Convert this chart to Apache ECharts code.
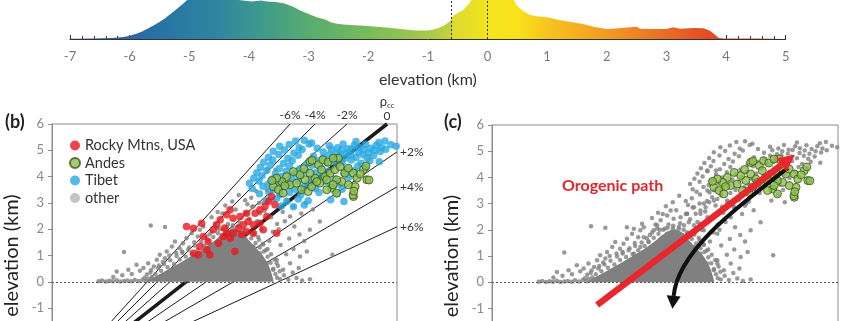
<!DOCTYPE html>
<html>
<head>
<meta charset="utf-8">
<script src="https://cdn.jsdelivr.net/npm/echarts/dist/echarts.min.js"></script>
<style>
  html, body { margin: 0; padding: 0; background: #fff; }
  #chart { width: 845px; height: 321px; }
</style>
</head>
<body>
<div id="chart"></div>
<script>
// ---- (a) global hypsometry strip: elevation (km) vs relative frequency ----
const hypsoKm = [-7, -6.6, -6.3, -6.1, -6.0, -5.9, -5.8, -5.7, -5.6, -5.5, -5.4, -5.3, -5.2, -5.1, -5.0,
  -4.8, -4.5, -4.3, -4.1, -3.95, -3.8, -3.7, -3.55, -3.4, -3.25, -3.14, -3.0, -2.85, -2.72, -2.62, -2.5,
  -2.3, -2.0, -1.75, -1.5, -1.2, -1.0, -0.9, -0.8, -0.7, -0.62, -0.58, -0.5, -0.41, -0.3, -0.25, -0.1,
  0.1, 0.3, 0.43, 0.5, 0.6, 0.71, 0.85, 1.0, 1.2, 1.4, 1.6, 1.8, 2.0, 2.2, 2.4, 2.5, 2.56, 2.8, 3.0,
  3.11, 3.23, 3.45, 3.62, 3.73, 3.82, 3.87, 3.95, 4.5, 5.0];
const hypsoFreq = [0.3, 0.5, 1.0, 2.0, 3.3, 5.0, 7.3, 10.3, 13.5, 17, 21, 25.7, 30.5, 35.5, 41,
  48, 45, 40, 38.5, 37.5, 38.5, 37.5, 37, 35.5, 32, 28.5, 25, 21.5, 19.5, 16.5, 15,
  14, 13, 11.7, 10.3, 8.5, 8.6, 9.6, 11.5, 14.5, 18.5, 23, 26, 29, 36, 41, 60,
  70, 55, 40, 33, 28, 24, 22.5, 21.7, 19, 17, 15, 12, 10, 10.8, 11.8, 12.3, 10.2, 10, 10,
  11.7, 10.3, 11, 10.7, 8.3, 4, 1.3, 0.6, 0.5, 0.5];
const hypsoMarkers = [-0.6, 0];

// ---- (b)/(c) samples: [crustal column index, mean elevation (km)] ----
const rockyMtns = [
  [31.2, 2.1], [32.8, 2.04], [34.7, 2.23], [34.3, 1.34], [35.9, 1.22], [33.9, 1.03], [32.8, 1.09],
  [36.6, 1.03], [36.2, 1.53], [37.4, 1.98], [39.0, 2.36], [40.5, 2.55], [41.3, 2.74], [42.0, 2.42],
  [39.7, 1.72], [40.5, 1.85], [41.3, 1.66], [42.0, 1.85], [43.2, 2.04], [44.4, 2.17], [45.5, 2.29],
  [46.7, 2.17], [45.1, 1.91], [46.7, 1.85], [43.6, 2.48], [45.1, 2.61], [47.1, 2.61], [48.2, 2.74],
  [49.4, 2.86], [50.2, 3.05], [50.9, 3.24], [51.7, 2.93], [49.8, 2.48], [48.2, 2.23], [49.0, 1.98],
  [52.1, 1.85], [42.4, 1.15], [38.2, 2.17], [35.1, 1.72], [38.6, 1.47], [40.0, 2.05], [44.0, 1.8]
];
const andes = [
  [59.8, 4.57], [61.8, 4.45], [62.5, 4.26], [63.3, 4.0], [64.5, 4.13], [65.6, 4.26], [66.4, 4.7],
  [66.8, 4.38], [67.9, 4.13], [68.7, 4.32], [69.9, 4.13], [70.7, 3.94], [72.2, 4.26], [73.0, 3.88],
  [70.3, 3.62], [69.9, 3.24], [68.7, 3.69], [67.2, 3.81], [66.0, 3.88], [64.9, 3.56], [66.0, 3.37],
  [63.7, 3.5], [62.1, 3.75], [61.0, 3.94], [59.8, 4.13], [58.7, 3.88], [57.5, 4.07], [56.0, 4.19],
  [54.4, 4.0], [53.3, 3.81], [52.1, 3.94], [51.3, 3.62], [52.5, 3.5], [53.6, 3.37], [55.2, 3.69],
  [56.7, 3.75], [57.9, 3.5], [59.4, 3.43], [60.2, 3.62], [61.4, 3.81], [63.7, 3.88], [65.2, 3.69],
  [60.3, 4.62], [62.8, 4.64], [64.0, 4.55], [65.2, 4.7], [73.5, 3.87], [69.8, 3.3], [70.0, 3.45],
  [72.8, 4.4], [71.5, 4.1], [58.4, 4.3], [54.0, 3.65], [51.0, 3.85]
];
const tibet = [
  [56.5, 5.35], [58.5, 5.38], [60.2, 5.28], [70.5, 5.33], [75.8, 5.3], [77.2, 5.35],
  [52.8, 5.15], [55.0, 5.22], [57.3, 5.1], [59.6, 5.24], [61.5, 5.08], [64.3, 5.17], [66.2, 5.1],
  [67.5, 5.24], [68.6, 5.06], [70.1, 5.19], [71.2, 5.11], [72.7, 5.23], [73.9, 5.08], [75.2, 5.19],
  [76.4, 5.1], [78.6, 5.21], [79.8, 5.15],
  [51.3, 4.96], [53.9, 5.01], [56.1, 4.9], [58.0, 5.03], [62.9, 4.94], [64.8, 5.04], [65.9, 4.88],
  [67.1, 5.0], [68.4, 4.9], [69.5, 5.05], [71.1, 4.93], [72.3, 5.03], [73.4, 4.9], [74.8, 5.0],
  [76.1, 4.95], [77.4, 5.04],
  [50.2, 4.74], [52.6, 4.84], [54.7, 4.7], [57.1, 4.81], [60.6, 4.77], [62.9, 4.71], [64.3, 4.83],
  [65.4, 4.74], [66.9, 4.85], [67.9, 4.7], [69.3, 4.8], [70.5, 4.73], [72.1, 4.83], [73.1, 4.71],
  [74.6, 4.8],
  [49.1, 4.55], [51.2, 4.63], [53.7, 4.51], [55.7, 4.61], [59.1, 4.49], [61.4, 4.6], [63.9, 4.52],
  [65.1, 4.6], [67.3, 4.55], [69.4, 4.63], [71.7, 4.51], [73.7, 4.6], [75.9, 4.56],
  [48.3, 4.35], [50.6, 4.43], [52.7, 4.31], [55.1, 4.4], [57.4, 4.29], [60.3, 4.43], [62.3, 4.34],
  [66.1, 4.42], [68.5, 4.31], [70.9, 4.4], [72.8, 4.35],
  [47.5, 4.15], [49.8, 4.23], [51.8, 4.11], [54.3, 4.2], [56.4, 4.12], [58.9, 4.22], [61.1, 4.15],
  [64.1, 4.2], [67.7, 4.12], [70.1, 4.22],
  [46.8, 3.95], [48.7, 4.03], [51.1, 3.91], [53.2, 4.0], [55.6, 3.92], [57.7, 4.02], [60.1, 3.95],
  [62.7, 4.03], [65.6, 3.91], [68.8, 3.98],
  [45.8, 3.75], [48.0, 3.83], [50.1, 3.71], [52.5, 3.8], [54.7, 3.72], [57.1, 3.83], [59.3, 3.75],
  [63.4, 3.8], [66.6, 3.72],
  [46.4, 3.55], [48.9, 3.63], [51.3, 3.51], [53.5, 3.6], [56.3, 3.52], [58.4, 3.62], [61.1, 3.55],
  [64.7, 3.6], [67.3, 3.52],
  [48.1, 3.35], [50.3, 3.42], [52.9, 3.32], [55.1, 3.4], [57.7, 3.31], [61.9, 3.4], [66.1, 3.35],
  [49.7, 3.1], [52.1, 3.18], [54.4, 3.05], [57.1, 3.15], [59.4, 3.08], [64.6, 3.12], [67.7, 3.05],
  [53.2, 2.88], [56.0, 2.85], [58.5, 2.92]
];
const otherRegions = [
  [10.8, 0.02], [11.6, 0.05], [12.5, 0.01], [13.3, 0.04], [14.1, 0.02], [15.0, 0.06], [15.8, 0.01],
  [16.7, 0.03], [17.5, 0.05], [18.4, 0.02], [19.2, 0.07], [20.1, 0.03], [21.0, 0.08], [21.8, 0.04],
  [22.4, 0.12], [14.2, 0.18], [15.0, 0.39], [16.3, 0.25], [17.7, 0.46], [18.5, 0.3], [19.6, 0.65],
  [20.4, 0.42], [21.2, 0.52], [22.3, 0.71], [22.0, 0.28], [23.0, 0.45], [23.6, 0.58], [24.3, 0.84],
  [25.0, 1.03], [24.8, 0.62], [25.7, 0.75], [26.6, 1.15], [26.2, 0.9], [27.8, 1.34], [27.2, 1.0],
  [28.5, 1.53], [28.8, 1.1], [29.6, 1.28], [30.4, 1.47], [31.2, 1.66], [30.2, 1.15], [32.4, 1.85],
  [33.0, 1.5], [34.3, 1.98], [35.1, 2.1], [22.9, 2.14], [26.2, 2.08], [16.7, 1.13], [33.8, 1.72],
  [31.8, 1.3], [36.5, 1.8], [37.8, 2.2], [38.8, 2.0], [39.5, 2.6], [40.8, 2.2], [41.8, 2.05],
  [42.6, 2.75], [43.5, 2.25], [44.8, 2.6], [45.8, 2.4], [46.4, 2.85], [47.5, 2.3], [48.5, 2.0],
  [47.8, 1.7], [48.9, 1.45], [49.6, 1.2], [50.4, 1.55], [51.2, 1.9], [52.2, 2.2], [50.8, 2.45],
  [49.3, 2.7], [48.0, 3.0], [46.2, 3.2], [44.8, 3.1], [43.3, 3.3], [47.3, 3.45], [45.3, 2.95],
  [41.8, 3.05], [40.2, 2.9], [38.4, 2.65], [37.0, 2.45], [51.3, 0.46], [49.8, 0.71], [52.1, 0.84],
  [48.2, 1.09], [46.7, 1.34], [52.1, 0.71], [53.6, 0.46], [55.2, 0.71], [57.5, 0.96], [59.1, 1.15],
  [52.9, 0.1], [54.8, 0.08], [56.7, 0.14], [59.8, 0.1], [58.0, 0.05], [53.8, 0.25], [55.8, 0.35],
  [57.2, 0.52], [56.0, 1.25], [54.3, 1.05], [53.0, 1.4], [55.0, 1.65], [57.4, 1.8], [56.2, 2.1],
  [58.5, 1.55], [59.8, 1.98], [62.1, 2.29], [55.2, 2.48], [56.0, 2.86], [54.4, 3.12], [52.9, 3.5],
  [51.3, 3.12], [49.8, 3.5], [49.0, 3.0], [48.2, 2.61], [46.7, 2.86], [45.1, 2.61], [53.5, 2.65],
  [57.8, 2.6], [58.8, 3.0], [60.5, 2.75], [51.8, 4.26], [49.8, 4.26], [50.5, 3.85], [52.6, 2.0],
  [54.0, 2.3], [65.0, 1.03],
  [24.0, 0.3], [25.3, 0.42], [26.8, 0.55], [28.3, 0.68], [29.6, 0.85], [31.0, 0.96], [32.5, 1.08],
  [33.8, 1.22], [35.3, 1.38], [36.2, 1.55], [37.4, 1.7], [38.5, 1.85], [39.6, 2.0], [40.6, 2.08],
  [41.9, 2.15], [43.2, 2.12], [44.3, 2.0], [45.2, 1.85], [46.2, 1.66], [47.2, 1.48], [48.2, 1.3],
  [49.1, 1.15], [50.0, 0.95], [50.7, 0.72], [51.3, 0.5], [51.8, 0.3], [52.2, 0.15], [23.2, 0.18],
  [21.5, 0.15], [22.8, 0.35], [24.6, 0.52], [26.0, 0.68], [27.4, 0.82], [28.9, 0.98], [30.2, 1.1],
  [31.6, 1.22], [33.1, 1.38], [34.6, 1.52], [35.8, 1.68], [37.0, 1.9], [38.2, 2.05], [46.8, 1.82],
  [48.0, 1.6], [49.0, 1.42], [50.0, 1.25], [50.8, 1.05], [51.6, 0.85], [52.4, 0.6], [52.8, 0.4]
];
// outline of the saturated low-elevation cloud, same units as the samples
const denseCoreOutline = [
  [22.0, 0], [23.0, 0.12], [24.5, 0.25], [26.0, 0.38], [27.5, 0.52], [29.0, 0.66], [30.5, 0.8],
  [32.0, 0.95], [33.5, 1.1], [35.0, 1.25], [36.5, 1.42], [37.8, 1.58], [39.0, 1.75], [40.2, 1.9],
  [41.4, 2.0], [42.6, 2.02], [43.8, 1.92], [44.8, 1.75], [45.8, 1.55], [46.8, 1.38], [47.8, 1.2],
  [48.8, 1.02], [49.6, 0.82], [50.3, 0.6], [50.8, 0.38], [51.2, 0.15], [51.4, 0]
];

// lines of constant crustal density contrast
const rhoLabels = ['-6%', '-4%', '-2%', '0', '+2%', '+4%', '+6%'];
const rhoOrigin = [0, -4];
const rhoEnds = [[55.2, 6], [61.0, 6], [68.4, 6], [77.7, 6], [80, 4.94], [80, 3.61], [80, 2.09]];

// evolution paths in (c): tail ... head base (cubic control points for the curved one)
const orogenicPath = [[24.3, -0.87], [66.9, 4.47]];
const collapsePath = [[68.4, 4.36], [57.3, 2.95], [43.0, 1.23], [42.0, -0.52]];

const FONT = 'Lato';
const GRAY_AXIS = '#8c8c8c';

const hypsoGradient = new echarts.graphic.LinearGradient(0, 0, 1, 0, [
  { offset: 0.0, color: '#5a4c9c' },
  { offset: 0.067, color: '#2f5fa8' },
  { offset: 0.125, color: '#2773a4' },
  { offset: 0.208, color: '#2f86a0' },
  { offset: 0.267, color: '#3e9a8c' },
  { offset: 0.333, color: '#57ac70' },
  { offset: 0.417, color: '#78bb5c' },
  { offset: 0.5, color: '#a6c94a' },
  { offset: 0.532, color: '#c5d23c' },
  { offset: 0.536, color: '#dcdb30' },
  { offset: 0.583, color: '#f2e41e' },
  { offset: 0.625, color: '#f8e21a' },
  { offset: 0.667, color: '#f6c51e' },
  { offset: 0.75, color: '#f29a22' },
  { offset: 0.833, color: '#ea6c25' },
  { offset: 0.892, color: '#e44a26' },
  { offset: 1.0, color: '#e03a2a' }
]);

function elevAxis(gridIndex) {
  return {
    type: 'value', gridIndex, min: -4, max: 6, interval: 1,
    axisLine: { show: true, lineStyle: { color: GRAY_AXIS, width: 1 } },
    axisTick: { show: true, inside: false, length: 4, lineStyle: { color: GRAY_AXIS } },
    axisLabel: { color: '#8a8a8a', fontSize: 13, margin: 8, fontFamily: FONT },
    splitLine: { show: false },
    name: 'elevation (km)', nameLocation: 'middle', nameGap: 30,
    nameTextStyle: { fontSize: 20, color: '#222', fontFamily: FONT }
  };
}
function hiddenXAxis(gridIndex) {
  return { type: 'value', gridIndex, min: 0, max: 80, show: false, splitLine: { show: false } };
}
function coreSeries(xAxisIndex, yAxisIndex) {
  return {
    type: 'custom', xAxisIndex, yAxisIndex, silent: true, z: 2,
    data: denseCoreOutline,
    renderItem: (params, api) => {
      if (params.dataIndex !== 0) return null;
      return {
        type: 'polygon',
        shape: { points: denseCoreOutline.map(p => api.coord(p)) },
        style: { fill: '#808080' }
      };
    }
  };
}
// arrow head (triangle) placed beyond the shaft end, along the given direction
function arrowHead(base, from, len, halfW, color) {
  let dx = base[0] - from[0], dy = base[1] - from[1];
  const n = Math.hypot(dx, dy) || 1;
  dx /= n; dy /= n;
  const tip = [base[0] + dx * len, base[1] + dy * len];
  return {
    type: 'polygon',
    shape: { points: [tip, [base[0] - dy * halfW, base[1] + dx * halfW], [base[0] + dy * halfW, base[1] - dx * halfW]] },
    style: { fill: color }
  };
}
function arrowSeries(path, color, width, headLen, headHalfW) {
  return {
    type: 'custom', xAxisIndex: 3, yAxisIndex: 2, silent: true, z: 6, clip: false,
    data: path,
    renderItem: (params, api) => {
      if (params.dataIndex !== 0) return null;
      const p = path.map(q => api.coord(q));
      const last = p[p.length - 1];
      const prev = p[p.length - 2];
      const shaft = p.length === 4
        ? { type: 'bezierCurve', shape: { x1: p[0][0], y1: p[0][1], cpx1: p[1][0], cpy1: p[1][1], cpx2: p[2][0], cpy2: p[2][1], x2: p[3][0], y2: p[3][1] },
            style: { stroke: color, lineWidth: width, fill: null } }
        : { type: 'line', shape: { x1: p[0][0], y1: p[0][1], x2: last[0], y2: last[1] },
            style: { stroke: color, lineWidth: width } };
      return { type: 'group', children: [shaft, arrowHead(last, prev, headLen, headHalfW, color)] };
    }
  };
}
const zeroLine = {
  silent: true, symbol: 'none', label: { show: false },
  lineStyle: { type: [2, 2], color: '#555', width: 1 },
  data: [{ yAxis: 0 }]
};

const rhoSeries = rhoLabels.map((lab, i) => {
  const isZero = lab === '0';
  const onTop = rhoEnds[i][1] >= 6;
  return {
    type: 'line', xAxisIndex: 2, yAxisIndex: 1, z: 1, silent: true, clip: false,
    showSymbol: true, symbol: 'circle', symbolSize: 0.01,
    itemStyle: { color: '#1a1a1a' },
    lineStyle: { color: '#1a1a1a', width: isZero ? 3.5 : 1 },
    label: { show: false },
    data: [
      rhoOrigin,
      {
        value: rhoEnds[i],
        label: {
          show: true, position: onTop ? 'top' : 'right', distance: isZero ? 1 : 3,
          color: '#333', fontSize: 12, fontFamily: FONT,
          formatter: isZero ? '{r|ρ}{s|cc}\n{n|0}' : lab,
          rich: {
            r: { fontSize: 13, color: '#333', fontFamily: FONT, lineHeight: 14 },
            s: { fontSize: 8, color: '#333', fontFamily: FONT, verticalAlign: 'bottom', lineHeight: 14 },
            n: { fontSize: 12, color: '#333', fontFamily: FONT, lineHeight: 14 }
          }
        }
      }
    ]
  };
});

const chart = echarts.init(document.getElementById('chart'), null, { renderer: 'canvas' });
chart.setOption({
  animation: false,
  backgroundColor: '#ffffff',
  textStyle: { fontFamily: FONT },
  grid: [
    { left: 70, top: 0, width: 715.7, height: 39, outerBoundsMode: 'none' },
    { left: 52, top: 124, width: 345, height: 263, show: true, borderColor: GRAY_AXIS, borderWidth: 1, outerBoundsMode: 'none' },
    { left: 492, top: 125, width: 346, height: 262, show: true, borderColor: GRAY_AXIS, borderWidth: 1, outerBoundsMode: 'none' }
  ],
  xAxis: [
    {
      type: 'value', gridIndex: 0, min: -7, max: 5, interval: 1,
      axisLine: { show: true, onZero: false, lineStyle: { color: '#333', width: 1 } },
      axisTick: { show: true, inside: true, length: 4, lineStyle: { color: '#333' } },
      minorTick: { show: true, splitNumber: 5, length: 3, lineStyle: { color: '#333' } },
      axisLabel: { color: '#7a7a7a', fontSize: 13, margin: 11, fontFamily: FONT },
      splitLine: { show: false }, minorSplitLine: { show: false },
      name: 'elevation (km)', nameLocation: 'middle', nameGap: 33,
      nameTextStyle: { fontSize: 16, color: '#333', fontFamily: FONT }
    },
    {
      type: 'value', gridIndex: 0, min: -7, max: 5, interval: 1,
      axisLine: { show: false, onZero: false },
      axisTick: { show: true, inside: false, length: 4, lineStyle: { color: '#333' } },
      axisLabel: { show: false }, splitLine: { show: false }
    },
    hiddenXAxis(1),
    hiddenXAxis(2)
  ],
  yAxis: [
    { type: 'value', gridIndex: 0, min: 0, max: 39, show: false, splitLine: { show: false } },
    elevAxis(1),
    elevAxis(2)
  ],
  legend: {
    left: 64, top: 133, orient: 'vertical', icon: 'circle',
    itemWidth: 10, itemHeight: 10, itemGap: 2.5,
    textStyle: { fontSize: 14.5, color: '#333', fontFamily: FONT },
    data: [
      { name: 'Rocky Mtns, USA' },
      { name: 'Andes' },
      { name: 'Tibet' },
      { name: 'other', itemStyle: { color: '#b5b5b5' } }
    ]
  },
  graphic: [
    { type: 'text', left: 5, top: 113, style: { text: '(b)', font: 'bold 18px Lato', fill: '#222' } },
    { type: 'text', left: 444, top: 113, style: { text: '(c)', font: 'bold 18px Lato', fill: '#222' } },
    { type: 'text', x: 562, y: 186, style: { text: 'Orogenic path', font: 'bold 16px Lato', fill: '#e3262b', verticalAlign: 'middle' } }
  ],
  series: [
    {
      type: 'line', xAxisIndex: 0, yAxisIndex: 0, silent: true, clip: true,
      data: hypsoKm.map((k, i) => [k, hypsoFreq[i]]),
      showSymbol: false, smooth: false,
      lineStyle: { width: 0 },
      areaStyle: { color: hypsoGradient, opacity: 1 },
      markLine: {
        silent: true, symbol: 'none', label: { show: false },
        lineStyle: { type: [2, 2], color: '#333', width: 1 },
        data: hypsoMarkers.map(v => ({ xAxis: v }))
      }
    },
    ...rhoSeries,
    coreSeries(2, 1),
    {
      type: 'scatter', name: 'other', xAxisIndex: 2, yAxisIndex: 1, z: 2, silent: true,
      data: otherRegions, symbolSize: 4.5, itemStyle: { color: '#808080' },
      markLine: zeroLine
    },
    {
      type: 'scatter', name: 'Tibet', xAxisIndex: 2, yAxisIndex: 1, z: 2, silent: true,
      data: tibet, symbolSize: 7.5, itemStyle: { color: '#29a9e1' }
    },
    {
      type: 'scatter', name: 'Rocky Mtns, USA', xAxisIndex: 2, yAxisIndex: 1, z: 2, silent: true,
      data: rockyMtns, symbolSize: 7.5, itemStyle: { color: '#e8161c' }
    },
    {
      type: 'scatter', name: 'Andes', xAxisIndex: 2, yAxisIndex: 1, z: 2, silent: true,
      data: andes, symbolSize: 8, itemStyle: { color: '#8dbf4e', borderColor: '#3a5419', borderWidth: 1 }
    },
    coreSeries(3, 2),
    {
      type: 'scatter', name: 'all samples', xAxisIndex: 3, yAxisIndex: 2, z: 2, silent: true,
      data: otherRegions.concat(rockyMtns, tibet), symbolSize: 4.5, itemStyle: { color: '#808080' },
      markLine: zeroLine
    },
    {
      type: 'scatter', name: 'Andes', xAxisIndex: 3, yAxisIndex: 2, z: 2, silent: true,
      data: andes, symbolSize: 8, itemStyle: { color: '#8dbf4e', borderColor: '#3a5419', borderWidth: 1 }
    },
    arrowSeries(collapsePath, '#111111', 4, 13, 7),
    arrowSeries(orogenicPath, '#e8262b', 6.5, 17, 8.5)
  ]
});
</script>
</body>
</html>
